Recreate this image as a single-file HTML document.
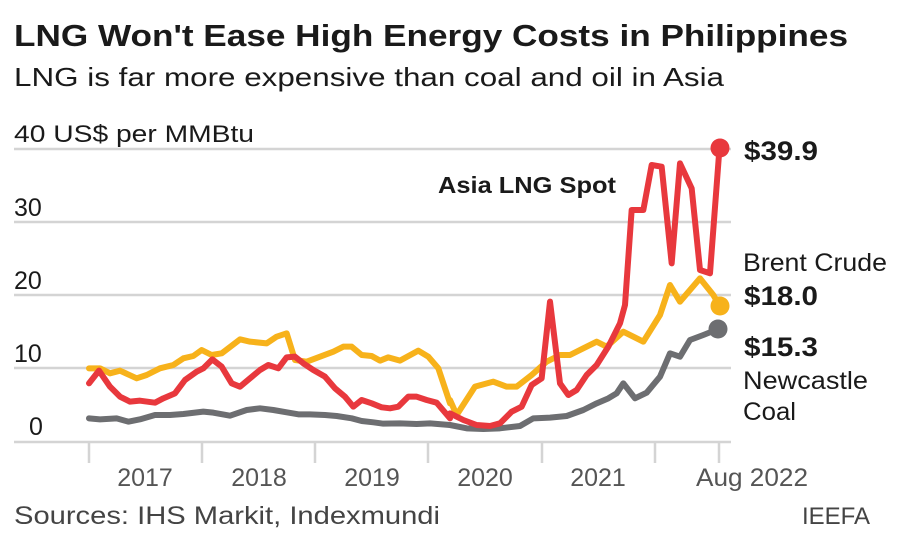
<!DOCTYPE html>
<html><head><meta charset="utf-8"><style>
html,body{margin:0;padding:0;background:#fff;}
svg{display:block;font-family:"Liberation Sans",sans-serif;}
</style></head><body>
<svg width="900" height="538" viewBox="0 0 900 538" xmlns="http://www.w3.org/2000/svg">
<text x="14" y="46" font-size="31" font-weight="bold" fill="#1a1a1a" textLength="834" lengthAdjust="spacingAndGlyphs">LNG Won't Ease High Energy Costs in Philippines</text>
<text x="14" y="86" font-size="26" fill="#1a1a1a" textLength="710" lengthAdjust="spacingAndGlyphs">LNG is far more expensive than coal and oil in Asia</text>
<text x="14" y="142" font-size="24" fill="#1a1a1a" textLength="240" lengthAdjust="spacingAndGlyphs">40 US$ per MMBtu</text>
<g stroke="#d4d4d4" stroke-width="2.5">
<line x1="14" x2="731" y1="149" y2="149"/><line x1="14" x2="731" y1="222" y2="222"/>
<line x1="14" x2="731" y1="295" y2="295"/><line x1="14" x2="731" y1="368" y2="368"/>
<line x1="14" x2="731" y1="442" y2="442"/>
<line x1="89" x2="89" y1="442" y2="463"/><line x1="202" x2="202" y1="442" y2="463"/>
<line x1="315" x2="315" y1="442" y2="463"/><line x1="428" x2="428" y1="442" y2="463"/>
<line x1="542" x2="542" y1="442" y2="463"/><line x1="655" x2="655" y1="442" y2="463"/>
<line x1="719" x2="719" y1="442" y2="463"/>
</g>
<g font-size="25" fill="#1a1a1a">
<text x="14" y="216">30</text><text x="14" y="289">20</text><text x="14" y="362">10</text><text x="29" y="435">0</text>
</g>
<g font-size="25" fill="#555" text-anchor="middle">
<text x="145" y="486">2017</text><text x="259" y="486">2018</text><text x="372" y="486">2019</text>
<text x="485" y="486">2020</text><text x="598" y="486">2021</text><text x="752" y="486" textLength="112" lengthAdjust="spacingAndGlyphs">Aug 2022</text>
</g>
<g fill="none" stroke-width="18" stroke-linejoin="round" stroke-linecap="round" transform="translate(0,120) scale(0.33333)">
<polyline stroke="#6d6e71" points="267,895 300,898 350,895 385,905 420,898 465,885 510,885 550,882 610,875 640,878 690,887 740,870 780,865 820,870 860,877 895,883 930,883 975,885 1010,888 1055,895 1085,903 1120,907 1150,911 1200,910 1250,912 1290,910 1350,915"/>
<polyline stroke="#f7b21b" points="267,745 300,745 330,760 360,752 410,775 440,765 480,745 520,735 550,715 580,708 605,690 635,705 665,700 720,658 750,665 800,670 830,650 860,640 885,720 920,725 960,710 1000,695 1030,680 1055,680 1085,705 1115,708 1140,722 1165,712 1200,722 1255,692 1285,710 1315,745 1350,850"/>
<polyline stroke="#e8383d" points="267,790 297,752 330,800 360,830 390,845 420,842 465,848 490,835 525,820 555,780 590,755 610,745 637,718 665,740 695,790 720,800 750,775 780,750 805,735 835,745 860,712 885,710 910,730 940,750 975,770 1005,805 1035,830 1060,860 1085,840 1115,850 1145,862 1170,865 1195,860 1225,830 1250,830 1280,840 1310,848 1350,895"/>
</g>
<g fill="none" stroke-width="18" stroke-linejoin="round" stroke-linecap="round" transform="translate(450,120) scale(0.33333)">
<polyline stroke="#6d6e71" points="0,915 50,925 100,927 150,925 210,918 250,895 300,893 350,888 400,870 440,850 475,835 500,820 520,790 555,835 590,818 630,770 660,700 690,710 720,660 760,645 805,627"/>
<polyline stroke="#f7b21b" points="0,840 20,885 75,800 130,785 170,800 200,800 245,765 290,725 330,705 360,705 400,685 440,665 470,680 520,635 580,665 630,585 660,495 690,545 750,475 790,525 810,560"/>
<polyline stroke="#e8383d" points="0,880 40,900 80,915 120,918 150,910 185,875 215,860 245,795 275,775 300,545 330,790 355,825 380,810 410,765 440,735 475,680 510,610 525,555 545,270 580,270 605,135 635,140 665,430 690,130 725,205 750,450 780,460 805,130 808,90"/>
</g>
<circle cx="720" cy="148" r="9.5" fill="#e8383d"/>
<circle cx="720" cy="306" r="9.5" fill="#f7b21b"/>
<circle cx="718" cy="329" r="9.5" fill="#6d6e71"/>
<text x="438" y="193" font-size="23" font-weight="bold" fill="#1a1a1a" textLength="178" lengthAdjust="spacingAndGlyphs">Asia LNG Spot</text>
<g font-size="27" fill="#1a1a1a">
<text x="744" y="160" font-weight="bold" textLength="74" lengthAdjust="spacingAndGlyphs">$39.9</text>
<text x="743" y="271" font-size="25" textLength="144" lengthAdjust="spacingAndGlyphs">Brent Crude</text>
<text x="744" y="305" font-weight="bold" textLength="74" lengthAdjust="spacingAndGlyphs">$18.0</text>
<text x="744" y="356" font-weight="bold" textLength="74" lengthAdjust="spacingAndGlyphs">$15.3</text>
<text x="743" y="389" font-size="25" textLength="125" lengthAdjust="spacingAndGlyphs">Newcastle</text>
<text x="743" y="420" font-size="25" textLength="53" lengthAdjust="spacingAndGlyphs">Coal</text>
</g>
<text x="14" y="524" font-size="25" fill="#444" textLength="426" lengthAdjust="spacingAndGlyphs">Sources: IHS Markit, Indexmundi</text>
<text x="870" y="524" font-size="24" fill="#444" text-anchor="end">IEEFA</text>
</svg>
</body></html>
